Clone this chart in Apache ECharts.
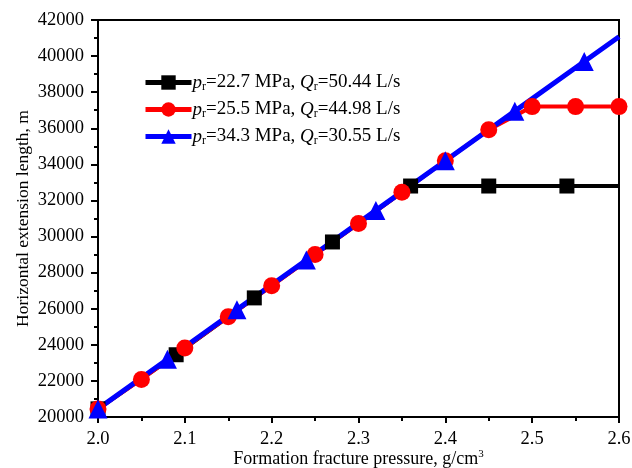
<!DOCTYPE html>
<html><head><meta charset="utf-8">
<script src="https://cdn.jsdelivr.net/npm/echarts@6/dist/echarts.min.js"></script>
<style>html,body{margin:0;padding:0;background:#fff}#c{width:632px;height:468px}</style>
</head><body><div id="c"></div>
<script>
const xBlack = [2.0, 2.09, 2.18, 2.27, 2.36, 2.45, 2.54, 2.6];
const yBlack = [20450, 23450, 26600, 29700, 32800, 32800, 32800, 32800];
const xRed = [2.0, 2.05, 2.1, 2.15, 2.2, 2.25, 2.3, 2.35, 2.4, 2.45, 2.5, 2.55, 2.6];
const yRed = [20450, 22080, 23830, 25550, 27270, 29000, 30720, 32450, 34200, 35920, 37200, 37200, 37200];
const xBlue = [2.0, 2.08, 2.16, 2.24, 2.32, 2.40, 2.48, 2.56, 2.6];
const yBlue = [20450, 23200, 25950, 28700, 31450, 34200, 36950, 39700, 41075];
const names = ['black', 'red', 'blue'];
const legendText = {
  black: '{i|p}{s|r}=22.7 MPa, {i|Q}{s|r}=50.44 L/s',
  red: '{i|p}{s|r}=25.5 MPa, {i|Q}{s|r}=44.98 L/s',
  blue: '{i|p}{s|r}=34.3 MPa, {i|Q}{s|r}=30.55 L/s'
};

const font = '"Liberation Serif","Times New Roman",serif';
function pts(xs, ys, lastHidden) {
  return xs.map((x, i) => {
    const d = { value: [x, ys[i]] };
    if (lastHidden && i === xs.length - 1) d.symbolSize = 0;
    return d;
  });
}
const chart = echarts.init(document.getElementById('c'), null, { renderer: 'canvas' });
const rich = {
  i: { fontStyle: 'italic', fontSize: 19, fontFamily: font, color: '#000' },
  s: { fontSize: 12, fontFamily: font, color: '#000', padding: [9, 0, 0, 0] }
};
chart.setOption({
  animation: false,
  backgroundColor: '#fff',
  grid: { left: 98, right: 13, top: 20, bottom: 51, show: true, borderColor: '#000', borderWidth: 2,
    containLabel: false, outerBoundsMode: 'none' },
  legend: {
    orient: 'vertical', left: 138, top: 68, itemGap: 7, itemWidth: 46, itemHeight: 18,
    data: names,
    formatter: n => legendText[n],
    lineStyle: { width: 5 },
    textStyle: { fontSize: 19, fontFamily: font, color: '#000', rich: rich, padding: [0, 0, 0, -4] }
  },
  xAxis: {
    type: 'value', min: 2.0, max: 2.6, interval: 0.1,
    name: 'Formation fracture pressure, g/cm{sup|3}', nameLocation: 'middle', nameGap: 32,
    nameMoveOverlap: false,
    nameTextStyle: { fontSize: 18, fontFamily: font, color: '#000',
      rich: { sup: { fontSize: 11, fontFamily: font, color: '#000', padding: [0, 0, 10, 0] } } },
    axisLine: { lineStyle: { color: '#000', width: 2 } },
    axisTick: { inside: false, length: 6, lineStyle: { color: '#000', width: 2 } },
    minorTick: { show: true, splitNumber: 2, length: 4, lineStyle: { color: '#000', width: 2 } },
    axisLabel: { fontSize: 18.5, fontFamily: font, color: '#000', margin: 13,
      formatter: v => Number(v).toFixed(1) },
    splitLine: { show: false }
  },
  yAxis: {
    type: 'value', min: 20000, max: 42000, interval: 2000,
    name: 'Horizontal extension length, m', nameLocation: 'middle', nameGap: 66, nameRotate: 90,
    nameMoveOverlap: false,
    nameTextStyle: { fontSize: 17.5, fontFamily: font, color: '#000' },
    axisLine: { lineStyle: { color: '#000', width: 2 } },
    axisTick: { inside: false, length: 7, lineStyle: { color: '#000', width: 2 } },
    minorTick: { show: true, splitNumber: 2, length: 4, lineStyle: { color: '#000', width: 2 } },
    axisLabel: { fontSize: 18.5, fontFamily: font, color: '#000', margin: 14,
      formatter: v => String(Math.round(v)) },
    splitLine: { show: false }
  },
  series: [
    { name: 'black', type: 'line', data: pts(xBlack, yBlack, true), symbol: 'rect', symbolSize: 15,
      color: '#000', lineStyle: { color: '#000', width: 4 }, itemStyle: { color: '#000' } },
    { name: 'red', type: 'line', data: pts(xRed, yRed, false), symbol: 'circle', symbolSize: 17,
      color: '#ff0000', lineStyle: { color: '#ff0000', width: 4 }, itemStyle: { color: '#ff0000' } },
    { name: 'blue', type: 'line', data: pts(xBlue, yBlue, true), symbol: 'triangle', symbolSize: 19,
      color: '#0000ff', lineStyle: { color: '#0000ff', width: 5 }, itemStyle: { color: '#0000ff' } }
  ]
});
</script></body></html>
